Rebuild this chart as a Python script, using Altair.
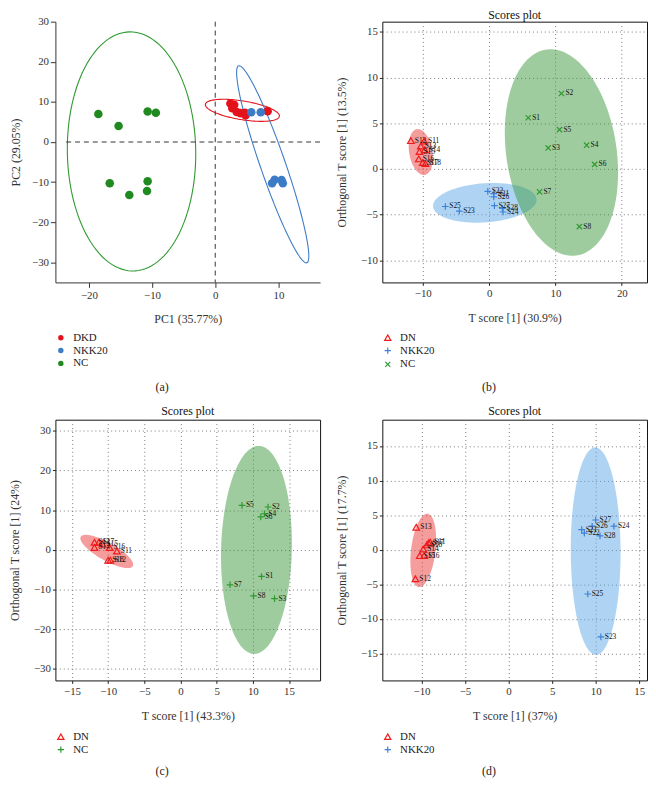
import numpy as np
import pandas as pd
import altair as alt

FONT = "Liberation Serif"
W = 268
H1 = 264
H2 = 264

# ---------------- Panel (a): PCA ----------------
A_X_DOMAIN = [-25.3, 16.6]
A_Y_DOMAIN = [-35, 30]
A_GROUPS = ["DKD", "NKK20", "NC"]
A_COLORS = ["#e3121b", "#3c7cc6", "#208a20"]
A_DKD_X = [2.4, 3.0, 2.7, 3.4, 4.0, 4.7, 4.8, 8.3]
A_DKD_Y = [9.6, 9.3, 8.4, 7.5, 7.2, 7.3, 6.7, 7.7]
A_NKK_X = [5.7, 7.2, 9.0, 9.4, 10.5, 10.7]
A_NKK_Y = [7.4, 7.4, -10.3, -9.4, -9.5, -10.3]
A_NC_X = [-18.5, -15.3, -10.7, -9.4, -16.7, -10.7, -13.6, -10.8]
A_NC_Y = [7.0, 4.0, 7.6, 7.3, -10.3, -9.8, -13.2, -12.2]
# ellipse: centre x, centre y, semi-major vector (ux, uy), minor/major ratio, colour
A_ELLIPSES = [
    (-13.25, -2.35, -0.3, 29.8, 0.537, "#2e9a2e"),
    (4.3, 7.9, 5.86, -1.5, 0.25, "#e3121b"),
    (9.1, -5.55, -5.4, 24.55, 0.12, "#3c7cc6"),
]

# ---------------- Panel (b) ----------------
B_X_DOMAIN = [-16.1, 23.8]
B_Y_DOMAIN = [-12.4, 16.1]
B_GROUPS = ["DN", "NKK20", "NC"]
B_DN_LABELS = ["S11", "S12", "S13", "S14", "S15", "S16", "S17", "S18"]
B_DN_X = [-9.8, -11.8, -10.3, -9.7, -10.5, -10.6, -10.0, -9.6]
B_DN_Y = [3.05, 3.1, 2.5, 2.1, 1.9, 1.1, 0.7, 0.6]
B_NKK_LABELS = ["S21", "S22", "S23", "S24", "S25", "S26", "S27", "S28"]
B_NKK_X = [0.7, -0.2, -4.5, 2.1, -6.6, 0.7, 0.8, 2.0]
B_NKK_Y = [-2.7, -2.45, -4.6, -4.7, -4.1, -3.05, -4.0, -4.3]
B_NC_LABELS = ["S1", "S2", "S3", "S4", "S5", "S6", "S7", "S8"]
B_NC_X = [5.9, 10.9, 8.9, 14.7, 10.6, 15.9, 7.6, 13.6]
B_NC_Y = [5.6, 8.25, 2.3, 2.6, 4.3, 0.5, -2.5, -6.3]
B_ELLIPSES = [
    (-10.3, 1.85, -0.6, 2.5, 0.5, "#ec3b3b"),
    (-0.65, -3.7, 7.8, 0.4, 0.377, "#5fa9e8"),
    (10.9, 1.8, -2.3, 11.25, 0.53, "#3f9a3f"),
]

# ---------------- Panel (c) ----------------
C_X_DOMAIN = [-17.3, 19.3]
C_Y_DOMAIN = [-32.9, 32.8]
C_GROUPS = ["DN", "NC"]
C_DN_LABELS = ["S11", "S12", "S13", "S14", "S15", "S16", "S17", "S18"]
C_DN_X = [-8.8, -9.7, -11.9, -11.9, -10.8, -9.8, -11.3, -10.0]
C_DN_Y = [-0.3, -2.6, 1.9, 0.6, 1.5, 0.6, 1.9, -2.6]
C_NC_LABELS = ["S1", "S2", "S3", "S4", "S5", "S6", "S7", "S8"]
C_NC_X = [11.2, 12.1, 13.0, 11.6, 8.5, 11.1, 6.85, 10.1]
C_NC_Y = [-6.7, 10.8, -12.3, 9.1, 11.2, 8.3, -8.8, -11.6]
C_ELLIPSES = [
    (-10.2, -0.4, -3.6, 3.7, 0.3, "#ec3b3b"),
    (10.5, 0.0, 0.35, 26.2, 0.34, "#3f9a3f"),
]

# ---------------- Panel (d) ----------------
D_X_DOMAIN = [-14.5, 15.9]
D_Y_DOMAIN = [-18.9, 18.8]
D_GROUPS = ["DN", "NKK20"]
D_DN_LABELS = ["S11", "S12", "S13", "S14", "S15", "S16", "S17", "S18"]
D_DN_X = [-9.0, -10.7, -10.6, -9.8, -10.2, -9.7, -9.2, -9.4]
D_DN_Y = [1.1, -4.2, 3.25, 0.1, -0.85, -0.85, 1.0, 0.7]
D_NKK_LABELS = ["S21", "S22", "S23", "S24", "S25", "S26", "S27", "S28"]
D_NKK_X = [8.4, 8.7, 10.6, 12.1, 9.1, 9.6, 10.0, 10.5]
D_NKK_Y = [2.9, 2.4, -12.6, 3.4, -6.4, 3.4, 4.3, 2.0]
D_ELLIPSES = [
    (-9.8, -0.1, 0.5, 5.3, 0.33, "#ec3b3b"),
    (10.0, -0.2, -0.05, 15.0, 0.24, "#5fa9e8"),
]

RED, BLUE, GREEN = "#f01a1a", "#3d80d8", "#2f9a2f"
TRI = "triangle-up"
PLUS = "M-1,0L1,0M0,-1L0,1"
XMARK = "M-0.8,-0.8L0.8,0.8M-0.8,0.8L0.8,-0.8"


def conj(ux, uy, ratio, kx, ky):
    vx = ratio * uy * ky / kx
    vy = -ratio * ux * kx / ky
    return vx, vy


def ellipse_outline(cx, cy, ux, uy, ratio, kx, ky, n=120):
    vx, vy = conj(ux, uy, ratio, kx, ky)
    t = np.linspace(0, 2 * np.pi, n)
    return pd.DataFrame({
        "x": cx + ux * np.cos(t) + vx * np.sin(t),
        "y": cy + uy * np.cos(t) + vy * np.sin(t),
        "o": np.arange(n),
    })


def ellipse_band(cx, cy, ux, uy, ratio, kx, ky, n=100):
    vx, vy = conj(ux, uy, ratio, kx, ky)
    M = np.array([[ux, vx], [uy, vy]])
    N = np.linalg.inv(M)
    Q = N.T @ N
    a, b, c = Q[0, 0], Q[0, 1], Q[1, 1]
    dymax = np.sqrt(a / (a * c - b * b))
    t = np.linspace(0, np.pi, n)
    dy = -dymax * np.cos(t)
    disc = np.clip(b * b * dy * dy - a * (c * dy * dy - 1), 0, None)
    return pd.DataFrame({
        "y": cy + dy,
        "x1": cx + (-b * dy - np.sqrt(disc)) / a,
        "x2": cx + (-b * dy + np.sqrt(disc)) / a,
    })


def pts(groups_data):
    rows = []
    for g, xs, ys, labs in groups_data:
        for i, (x, y) in enumerate(zip(xs, ys)):
            rows.append({"group": g, "x": x, "y": y, "label": labs[i] if labs else ""})
    return pd.DataFrame(rows)


def text_at(text, x, y, size=12, color="#222"):
    return alt.Chart(pd.DataFrame({"t": [text]})).mark_text(
        font=FONT, fontSize=size, color=color, baseline="middle"
    ).encode(text="t:N", x=alt.value(x), y=alt.value(y))


# ---------- panel (a) ----------
def panel_a():
    xs = alt.Scale(domain=A_X_DOMAIN, nice=False, zero=False)
    ys = alt.Scale(domain=A_Y_DOMAIN, nice=False, zero=False)
    ax_common = dict(grid=False, domainColor="#333", tickColor="#333", tickSize=5,
                     labelFont=FONT, labelFontSize=11, labelColor="#333", labelPadding=2,
                     titleFont=FONT, titleFontSize=12, titleFontWeight="normal",
                     titleColor="#333")
    xa = alt.Axis(values=[-20, -10, 0, 10], title="PC1 (35.77%)", titlePadding=14, **ax_common)
    ya = alt.Axis(values=[-30, -20, -10, 0, 10, 20, 30], title="PC2 (29.05%)",
                  titlePadding=9, **ax_common)
    kx = W / (A_X_DOMAIN[1] - A_X_DOMAIN[0])
    ky = H1 / (A_Y_DOMAIN[1] - A_Y_DOMAIN[0])
    layers = []
    for cx, cy, ux, uy, r, col in A_ELLIPSES:
        edf = ellipse_outline(cx, cy, ux, uy, r, kx, ky)
        layers.append(alt.Chart(edf).mark_line(color=col, strokeWidth=1.1).encode(
            x=alt.X("x:Q", scale=xs, axis=xa), y=alt.Y("y:Q", scale=ys, axis=ya), order="o:Q"))
    vdf = pd.DataFrame({"x": [0], "y": [30], "y2": [-35]})
    hdf = pd.DataFrame({"y": [0], "x": [-23.6], "x2": [16.6]})
    layers.append(alt.Chart(vdf).mark_rule(color="#333", strokeDash=[5, 4], strokeWidth=1).encode(
        x=alt.X("x:Q", scale=xs, axis=xa), y=alt.Y("y:Q", scale=ys, axis=ya), y2="y2:Q"))
    layers.append(alt.Chart(hdf).mark_rule(color="#333", strokeDash=[5, 4], strokeWidth=1).encode(
        y=alt.Y("y:Q", scale=ys, axis=ya), x=alt.X("x:Q", scale=xs, axis=xa), x2="x2:Q"))
    df = pts([("DKD", A_DKD_X, A_DKD_Y, None), ("NKK20", A_NKK_X, A_NKK_Y, None),
              ("NC", A_NC_X, A_NC_Y, None)])
    leg = alt.Legend(title=None, orient="none", legendX=0, legendY=H1 + 56 - 5.5,
                     direction="vertical", labelFont=FONT, labelFontSize=11, labelColor="#222",
                     symbolSize=30, labelOffset=7, rowPadding=1, padding=0)
    layers.append(alt.Chart(df).mark_circle(size=75, opacity=1).encode(
        x=alt.X("x:Q", scale=xs, axis=xa), y=alt.Y("y:Q", scale=ys, axis=ya),
        color=alt.Color("group:N", scale=alt.Scale(domain=A_GROUPS, range=A_COLORS), legend=leg)))
    layers.append(text_at("(a)", 108, H1 + 106))
    return alt.layer(*layers).properties(
        width=W, height=H1, view=alt.ViewBackground(stroke="transparent"))


def score_panel(df, groups, colors, shapes, ellipses, xd, yd, xvals, yvals,
                xtitle, ytitle, H, cap, leg_dy, cap_dy, title_dy):
    xs = alt.Scale(domain=xd, nice=False, zero=False)
    ys = alt.Scale(domain=yd, nice=False, zero=False)
    ax_common = dict(grid=True, gridColor="#777", gridDash=[1, 3], gridWidth=1,
                     domain=False, tickColor="#222", tickSize=3,
                     labelFont=FONT, labelFontSize=11, labelColor="#333", labelPadding=2,
                     titleFont=FONT, titleFontSize=12, titleFontWeight="normal",
                     titleColor="#333")
    xa = alt.Axis(values=xvals, title=xtitle, titlePadding=15, **ax_common)
    ya = alt.Axis(values=yvals, title=ytitle, titlePadding=12, **ax_common)
    kx = W / (xd[1] - xd[0])
    ky = H / (yd[1] - yd[0])
    layers = []
    for cx, cy, ux, uy, r, col in ellipses:
        edf = ellipse_band(cx, cy, ux, uy, r, kx, ky)
        layers.append(alt.Chart(edf).mark_area(orient="horizontal", color=col, opacity=0.5).encode(
            y=alt.Y("y:Q", scale=ys, axis=ya), x=alt.X("x1:Q", scale=xs, axis=xa), x2="x2:Q"))
    leg = alt.Legend(title=None, orient="none", legendX=0, legendY=H + leg_dy - 5.5,
                     direction="vertical", labelFont=FONT, labelFontSize=11, labelColor="#222",
                     symbolSize=40, symbolStrokeWidth=1.2, labelOffset=7, rowPadding=1, padding=0)
    layers.append(alt.Chart(df).mark_point(filled=False, size=45, strokeWidth=1.2, opacity=1).encode(
        x=alt.X("x:Q", scale=xs, axis=xa), y=alt.Y("y:Q", scale=ys, axis=ya),
        color=alt.Color("group:N", scale=alt.Scale(domain=groups, range=colors), legend=leg),
        shape=alt.Shape("group:N", scale=alt.Scale(domain=groups, range=shapes), legend=leg)))
    layers.append(alt.Chart(df).mark_text(font=FONT, fontSize=7.5, color="#111", align="left",
                                          baseline="middle", dx=4).encode(
        x=alt.X("x:Q", scale=xs, axis=xa), y=alt.Y("y:Q", scale=ys, axis=ya), text="label:N"))
    layers.append(text_at("Scores plot", W / 2, title_dy, size=12, color="#111"))
    layers.append(text_at(cap, 108, H + cap_dy))
    return alt.layer(*layers).properties(
        width=W, height=H,
        view=alt.ViewBackground(stroke="#111", strokeWidth=1))


df_b = pts([("DN", B_DN_X, B_DN_Y, B_DN_LABELS), ("NKK20", B_NKK_X, B_NKK_Y, B_NKK_LABELS),
            ("NC", B_NC_X, B_NC_Y, B_NC_LABELS)])
pb = score_panel(df_b, B_GROUPS, [RED, BLUE, GREEN], [TRI, PLUS, XMARK], B_ELLIPSES,
                 B_X_DOMAIN, B_Y_DOMAIN, [-10, 0, 10, 20], [-10, -5, 0, 5, 10, 15],
                 "T score [1] (30.9%)", "Orthogonal T score [1] (13.5%)", H1, "(b)", 56, 106, -7)

df_c = pts([("DN", C_DN_X, C_DN_Y, C_DN_LABELS), ("NC", C_NC_X, C_NC_Y, C_NC_LABELS)])
pc = score_panel(df_c, C_GROUPS, [RED, GREEN], [TRI, PLUS], C_ELLIPSES,
                 C_X_DOMAIN, C_Y_DOMAIN, [-15, -10, -5, 0, 5, 10, 15], [-30, -20, -10, 0, 10, 20, 30],
                 "T score [1] (43.3%)", "Orthogonal T score [1] (24%)", H2, "(c)", 57, 92, -9)

df_d = pts([("DN", D_DN_X, D_DN_Y, D_DN_LABELS), ("NKK20", D_NKK_X, D_NKK_Y, D_NKK_LABELS)])
pd_ = score_panel(df_d, D_GROUPS, [RED, BLUE], [TRI, PLUS], D_ELLIPSES,
                  D_X_DOMAIN, D_Y_DOMAIN, [-10, -5, 0, 5, 10, 15], [-15, -10, -5, 0, 5, 10, 15],
                  "T score [1] (37%)", "Orthogonal T score [1] (17.7%)", H2, "(d)", 57, 92, -9)

res = dict(color="independent", shape="independent", x="independent", y="independent")
chart = alt.concat(panel_a(), pb, pc, pd_, columns=2,
                   spacing={"row": 139, "column": 63}, bounds="flush").resolve_scale(**res).properties(
    padding={"left": 0, "top": -5, "right": 0, "bottom": 0}
).configure(font=FONT)

chart.save("out.html", embed_options={"renderer": "svg", "actions": False})
